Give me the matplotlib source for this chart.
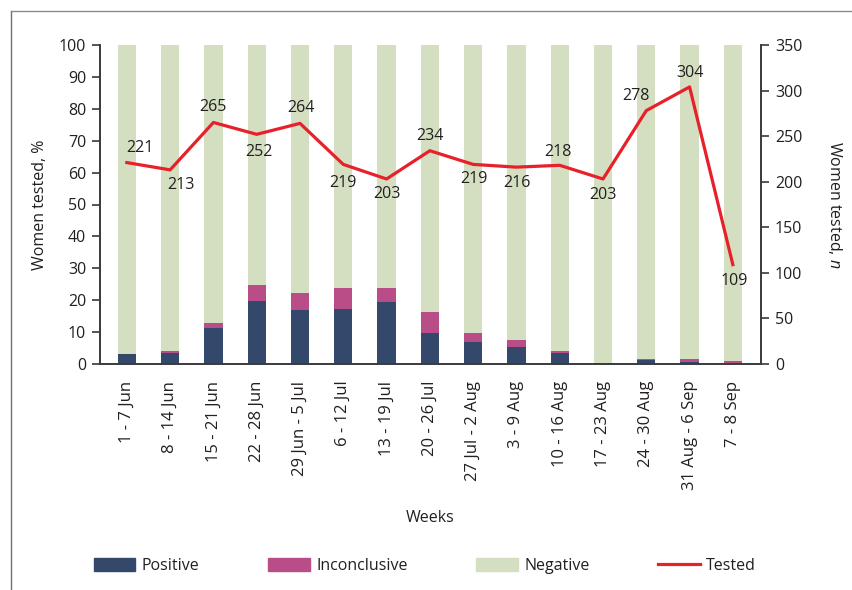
import matplotlib
matplotlib.use("Agg")
import matplotlib.pyplot as plt
import numpy as np
from matplotlib.lines import Line2D
from matplotlib.patches import Patch

plt.rcParams['font.family'] = ['Open Sans', 'DejaVu Sans']
plt.rcParams['mathtext.fontset'] = 'custom'
plt.rcParams['mathtext.rm'] = 'Open Sans'
plt.rcParams['mathtext.it'] = 'Open Sans:italic'

weeks = ["1 - 7 Jun", "8 - 14 Jun", "15 - 21 Jun", "22 - 28 Jun", "29 Jun - 5 Jul",
         "6 - 12 Jul", "13 - 19 Jul", "20 - 26 Jul", "27 Jul - 2 Aug", "3 - 9 Aug",
         "10 - 16 Aug", "17 - 23 Aug", "24 - 30 Aug", "31 Aug - 6 Sep", "7 - 8 Sep"]
positive = [3.2, 3.5, 11.3, 19.8, 16.8, 17.1, 19.3, 9.8, 6.9, 5.4, 3.5, 0.4, 1.4, 0.7, 0.0]
inconclusive = [0.0, 0.7, 1.6, 5.0, 5.6, 6.8, 4.6, 6.6, 2.9, 2.2, 0.7, 0.0, 0.3, 1.0, 0.8]
negative = [100 - p - i for p, i in zip(positive, inconclusive)]
tested = [221, 213, 265, 252, 264, 219, 203, 234, 219, 216, 218, 203, 278, 304, 109]
# label offsets in pixels (dx, dy)
label_off = [(13, 15), (11, -15), (0, 15), (2, -18), (1, 15), (0, -19), (0, -15), (0, 15),
             (1, -15), (1, -16), (-2, 13), (0, -16), (-10, 15), (0, 14), (1, -16)]

NAVY = "#34486b"
PINK = "#b84d87"
GREEN = "#d4dfc1"
RED = "#e8202a"
TXT = "#231f20"
AX = "#3a3a3a"

fig = plt.figure(figsize=(8.53, 5.9), dpi=100)
ax = fig.add_axes([100 / 853, 1 - 364 / 590, 661 / 853, 319 / 590])
x = np.arange(len(weeks))
w = 0.42
ax.bar(x, positive, w, color=NAVY, zorder=2)
ax.bar(x, inconclusive, w, bottom=positive, color=PINK, zorder=2)
ax.bar(x, negative, w, bottom=np.array(positive) + np.array(inconclusive), color=GREEN, zorder=2)
ax.set_xlim(-0.62, len(weeks) - 1 + 0.65)
ax.set_ylim(0, 100)
ax.set_yticks(range(0, 101, 10))
ax.set_xticks(x)
ax.set_xticklabels(weeks, rotation=90, fontsize=12, color=TXT)
ax.tick_params(axis='x', length=0, pad=12)
ax.tick_params(axis='y', length=6, width=1.2, color=AX, labelsize=11.5, labelcolor=TXT, pad=4)
ax.spines['top'].set_visible(False)
for s in ['left', 'bottom', 'right']:
    ax.spines[s].set_color(AX)
    ax.spines[s].set_linewidth(1.2)
ax.set_ylabel("Women tested, %", fontsize=11.5, color=TXT, labelpad=8)
ax.set_xlabel("Weeks", fontsize=11.5, color=TXT, labelpad=14)

ax2 = ax.twinx()
ax2.plot(x, tested, color=RED, lw=2.3, zorder=5)
ax2.set_ylim(0, 350)
ax2.set_yticks(range(0, 351, 50))
ax2.tick_params(axis='y', length=6, width=1.2, color=AX, labelsize=11.5, labelcolor=TXT, pad=4)
ax2.spines['top'].set_visible(False)
for s in ['left', 'bottom', 'right']:
    ax2.spines[s].set_color(AX)
    ax2.spines[s].set_linewidth(1.2)
ax2.set_ylabel("Women tested, $n$", fontsize=11.5, color=TXT, rotation=270, labelpad=30)
for xi, t, (dx, dy) in zip(x, tested, label_off):
    ax2.annotate(str(t), (xi, t), xytext=(dx, dy), textcoords='offset pixels',
                 ha='center', va='center', fontsize=11.5, color=TXT, zorder=6)

handles = [Patch(color=NAVY), Patch(color=PINK), Patch(color=GREEN),
           Line2D([], [], color=RED, lw=2.3)]
fig.legend(handles, ["Positive", "Inconclusive", "Negative", "Tested"], loc='center',
           bbox_to_anchor=(425 / 853, 1 - 566 / 590), ncol=4, frameon=False,
           fontsize=11.5, handlelength=2.6, handleheight=0.9, columnspacing=4.3,
           handletextpad=0.4, labelcolor=TXT)

# outer frame (left and top edges)
fig.add_artist(Line2D([11 / 853, 11 / 853], [0, 1 - 11 / 590], color="#6f6f6f", lw=1.0))
fig.add_artist(Line2D([11 / 853, 1], [1 - 11 / 590, 1 - 11 / 590], color="#8a8a8a", lw=1.0))

fig.savefig("out.png", dpi=100)
